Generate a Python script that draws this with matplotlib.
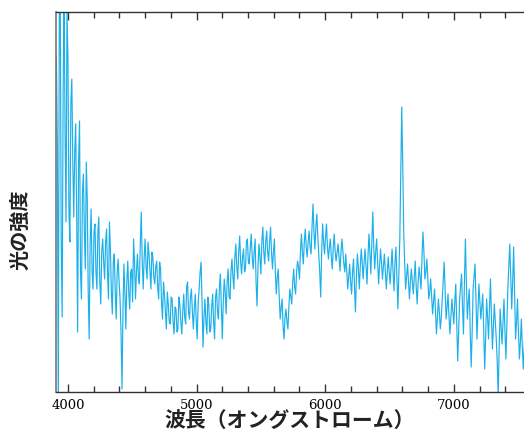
import numpy as np
import matplotlib
matplotlib.use("Agg")
import matplotlib.pyplot as plt
from matplotlib.ticker import MultipleLocator, NullLocator

# wavelength grid (Angstrom) and relative intensity
wl_start, wl_step = 3910, 15
intensity = [
    336, -20, 400, 75, 400, 170, 333, 150, 313, 175,
    268, 60, 271, 93, 218, 123, 193, 53, 183, 103,
    168, 103, 175, 88, 153, 113, 163, 93, 143, 78,
    138, 73, 133, 93, 3, 128, 63, 131, 83, 123,
    153, 93, 138, 108, 180, 103, 153, 113, 138, 103,
    135, 108, 131, 93, 123, 73, 98, 63, 88, 68,
    93, 58, 83, 63, 88, 58, 98, 68, 110, 73,
    103, 63, 98, 53, 103, 130, 45, 93, 58, 88,
    63, 98, 53, 103, 73, 118, 53, 113, 78, 123,
    93, 133, 103, 148, 113, 156, 118, 143, 123, 153,
    128, 158, 123, 153, 86, 148, 118, 165, 128, 161,
    131, 165, 123, 153, 98, 123, 73, 93, 53, 83,
    63, 103, 88, 123, 98, 131, 113, 158, 128, 163,
    135, 161, 138, 188, 143, 178, 138, 95, 168, 138,
    168, 133, 153, 123, 158, 131, 148, 121, 153, 128,
    138, 103, 128, 98, 133, 80, 138, 103, 143, 113,
    143, 108, 158, 118, 180, 123, 153, 108, 143, 113,
    138, 103, 135, 108, 143, 101, 145, 83, 153, 285,
    163, 103, 128, 93, 123, 98, 131, 88, 125, 103,
    160, 113, 133, 93, 113, 78, 103, 58, 93, 63,
    93, 130, 73, 98, 58, 93, 68, 108, 31, 93,
    118, 58, 153, 73, 103, 25, 103, 128, 53, 108,
    73, 98, 23, 93, 53, 113, 43, 88, 53, -5,
    83, 48, 93, 33, 103, 148, 83, 145, 53, 93,
    33, 73, 23, 63, 38, 68, 48,
]
# readings half-way between the samples above (at +7.5 Angstrom)
intensity_mid = [
    250, 380, 150, 300, 260, 380, 180, 290, 230, 240,
    180, 230, 120, 200, 160, 230, 100, 150, 120, 160,
    120, 160, 110, 140, 130, 150, 120, 170, 100, 130,
    100, 120, 110, 60, 80, 100, 110, 100, 120, 90,
    130, 120, 115, 150, 130, 135, 125, 150, 120, 140,
    115, 125, 105, 130, 90, 110, 80, 100, 70, 95,
    70, 85, 60, 95, 70, 80, 75, 105, 80, 95,
    80, 85, 70, 90, 120, 90, 75, 70, 95, 60,
    85, 70, 95, 80, 105, 85, 90, 100, 110, 95,
    120, 115, 135, 125, 140, 130, 135, 120, 150, 130,
    145, 135, 140, 110, 125, 135, 150, 140, 150, 140,
    150, 140, 140, 120, 115, 95, 85, 65, 75, 70,
    85, 95, 110, 105, 120, 125, 140, 140, 150, 145,
    150, 145, 165, 160, 165, 155, 120, 140, 150, 155,
    145, 145, 135, 145, 140, 140, 135, 140, 140, 120,
    120, 115, 110, 120, 105, 115, 125, 125, 130, 130,
    125, 135, 140, 150, 145, 140, 130, 125, 130, 125,
    120, 120, 120, 125, 120, 130, 115, 120, 220, 230,
    130, 115, 110, 110, 110, 115, 105, 110, 115, 135,
    140, 120, 115, 100, 95, 90, 80, 75, 80, 75,
    110, 100, 85, 75, 75, 80, 90, 70, 60, 105,
    85, 110, 110, 90, 60, 60, 115, 90, 80, 90,
    85, 60, 55, 75, 85, 75, 65, 70, 30, 45,
    65, 70, 60, 70, 125, 115, 110, 100, 70, 60,
    50, 45, 45, 50, 55, 58,
]

n = len(intensity)
wl_main = wl_start + wl_step * np.arange(n)
wl_mid = wl_main[:-1] + wl_step / 2
wavelength = np.empty(2 * n - 1)
flux = np.empty(2 * n - 1)
wavelength[0::2] = wl_main
wavelength[1::2] = wl_mid
flux[0::2] = intensity
flux[1::2] = intensity_mid

xtick_values = [4000, 5000, 6000, 7000]
xlabel = "波長（オングストローム）"
ylabel = "光の強度"

W, H, DPI = 524, 431, 100
fig = plt.figure(figsize=(W / DPI, H / DPI), dpi=DPI)
left, right, bottom, top = 56, 531, 38, 418
ax = fig.add_axes([left / W, bottom / H, (right - left) / W, (top - bottom) / H])

ax.plot(wavelength, flux, color="#1cb0ea", lw=0.85)
ax.set_xlim(3907, 7600)
ax.set_ylim(0, 380)

ax.set_xticks(xtick_values)
ax.set_xticklabels([str(v) for v in xtick_values], family="DejaVu Serif", fontsize=9.5)
ax.xaxis.set_minor_locator(MultipleLocator(200))
ax.yaxis.set_major_locator(NullLocator())
ax.tick_params(axis="x", which="both", direction="in", top=True, bottom=True,
               color="#333333", width=1.0, pad=4)
ax.tick_params(axis="x", which="major", length=6)
ax.tick_params(axis="x", which="minor", length=4)

for s in ["top", "bottom"]:
    ax.spines[s].set_color("#333333")
    ax.spines[s].set_linewidth(1.0)
ax.spines["left"].set_color("#777777")
ax.spines["left"].set_linewidth(1.2)
ax.spines["right"].set_visible(False)

cjk = ["Noto Sans CJK JP", "DejaVu Sans"]
fig.text(290 / W, 1 - 411 / H, xlabel, family=cjk, fontweight="bold",
         fontsize=15, ha="center", va="top", color="#222222")
fig.text(20 / W, 1 - 230 / H, ylabel, family=cjk, fontweight="bold",
         fontsize=14.5, ha="center", va="center", rotation=90, color="#222222")

fig.savefig("out.png", dpi=DPI)
